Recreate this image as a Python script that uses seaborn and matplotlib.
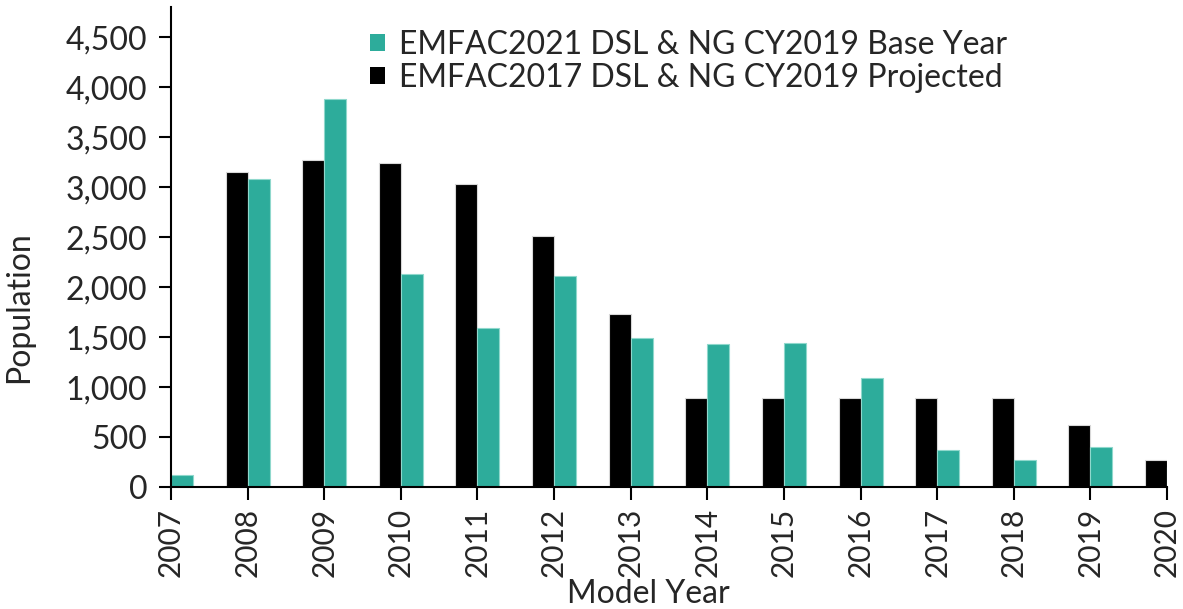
import pandas as pd
import matplotlib
matplotlib.use("Agg")
import matplotlib.pyplot as plt
import seaborn as sns
from matplotlib.patches import Patch

# data
years = [str(y) for y in range(2007, 2021)]
emfac2017_projected = [0, 3146, 3266, 3243, 3030, 2513, 1733, 886, 886, 886, 886, 886, 620, 270]
emfac2021_base = [120, 3083, 3886, 2130, 1590, 2113, 1490, 1430, 1440, 1093, 367, 270, 403, 197]

label_2017 = "EMFAC2017 DSL & NG CY2019 Projected"
label_2021 = "EMFAC2021 DSL & NG CY2019 Base Year"
colors = {label_2017: "#000000", label_2021: "#2DAC9B"}

df = pd.DataFrame({
    "year": years * 2,
    "population": emfac2017_projected + emfac2021_base,
    "series": [label_2017] * len(years) + [label_2021] * len(years),
})

sns.set_style("white")
plt.rcParams["font.family"] = ["Lato", "DejaVu Sans"]
fs = 23

fig = plt.figure(figsize=(11.83, 6.09), dpi=100)
ax = fig.add_axes([0.1445, 0.2003, 0.842, 0.788])

sns.barplot(data=df, x="year", y="population", hue="series",
            hue_order=[label_2017, label_2021], palette=colors, saturation=1,
            width=0.575, gap=0, linewidth=0.8, edgecolor="#d8d8d8",
            legend=False, ax=ax)

# lighter outline on the teal bars
for p in ax.patches:
    fc = p.get_facecolor()
    if fc[1] > 0.5:
        p.set_edgecolor("#8fd8cc")

ax.set_xlim(0, len(years) - 1)
ax.set_ylim(0, 4800)
ax.set_yticks(range(0, 5000, 500))
ax.yaxis.set_major_formatter(matplotlib.ticker.FuncFormatter(lambda v, _: f"{int(v):,}"))

ax.tick_params(axis="both", labelsize=fs, length=9, width=1.5, color="black",
               direction="out", bottom=True, left=True, pad=8)
ax.tick_params(axis="x", rotation=90, pad=6, labelsize=21.5)

for s in ["top", "right"]:
    ax.spines[s].set_visible(False)
for s in ["left", "bottom"]:
    ax.spines[s].set_color("black")
    ax.spines[s].set_linewidth(1.5)

ax.set_xlabel("Model Year", fontsize=fs)
ax.set_ylabel("Population", fontsize=fs)
ax.xaxis.set_label_coords(0.479, -0.192)
ax.yaxis.set_label_coords(-0.137, 0.375)

handles = [Patch(facecolor=colors[label_2021], edgecolor="none"),
           Patch(facecolor=colors[label_2017], edgecolor="none")]
ax.legend(handles, [label_2021, label_2017], loc="upper left",
          bbox_to_anchor=(0.2, 0.953), frameon=False, fontsize=fs,
          handlelength=0.45, handleheight=0.45, handletextpad=0.45,
          labelspacing=0.1, borderaxespad=0, borderpad=0)

fig.savefig("out.png", dpi=100)
